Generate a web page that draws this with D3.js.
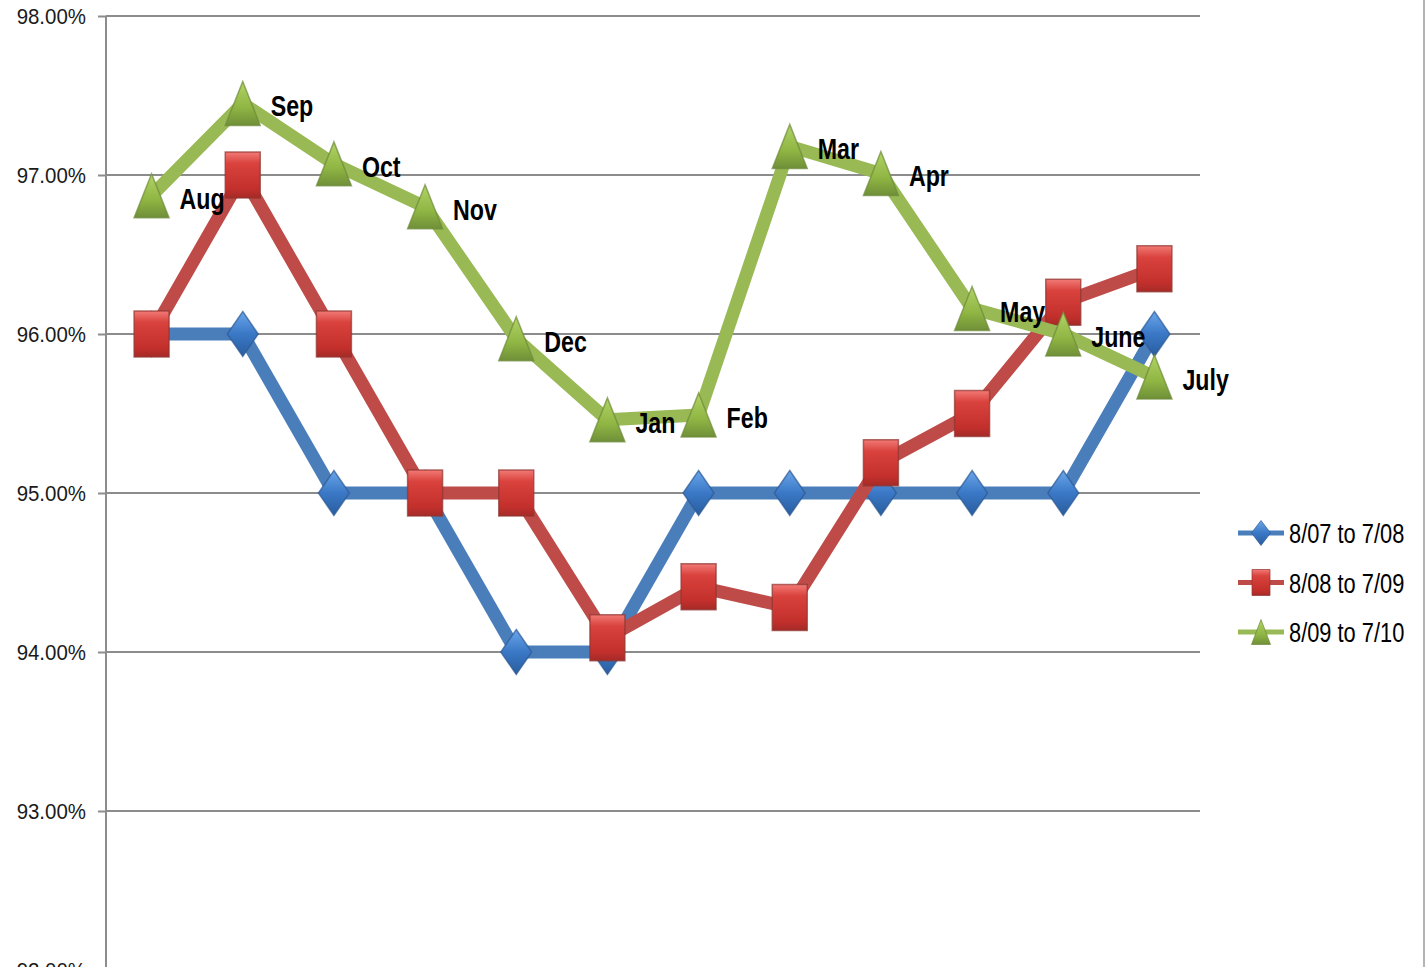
<!DOCTYPE html>
<html>
<head>
<meta charset="utf-8">
<script src="https://cdn.jsdelivr.net/npm/d3@7"></script>
<style>
  body { margin: 0; background: #fff; }
  svg { display: block; }
</style>
</head>
<body>
<div id="chart"></div>
<script>
// months along the x axis
var months = ["Aug", "Sep", "Oct", "Nov", "Dec", "Jan", "Feb", "Mar", "Apr", "May", "June", "July"];

// series values (percent)
var s0708 = [96.0, 96.0, 95.0, 95.0, 94.0, 94.0, 95.0, 95.0, 95.0, 95.0, 95.0, 96.0];
var s0809 = [96.0, 97.0, 96.0, 95.0, 95.0, 94.09, 94.41, 94.28, 95.19, 95.5, 96.2, 96.41];
var s0910 = [96.87, 97.45, 97.07, 96.8, 95.97, 95.46, 95.49, 97.18, 97.01, 96.16, 96.0, 95.73];

var seriesNames = ["8/07 to 7/08", "8/08 to 7/09", "8/09 to 7/10"];
var yTicks = [92, 93, 94, 95, 96, 97, 98];

var svgWidth = 1425;
var svgHeight = 967;

var svg = d3.select("#chart")
    .append("svg")
    .attr("width", svgWidth)
    .attr("height", svgHeight);

var defs = svg.append("defs");

function addGradient(id, stops) {
    var g = defs.append("linearGradient")
        .attr("id", id)
        .attr("x1", 0).attr("y1", 0)
        .attr("x2", 0).attr("y2", 1);
    stops.forEach(function(s) {
        g.append("stop").attr("offset", s[0]).attr("stop-color", s[1]);
    });
}
addGradient("gBlue", [[0, "#6aa6ea"], [0.5, "#3a78c6"], [1, "#2a5d9e"]]);
addGradient("gRed", [[0, "#f27a76"], [0.25, "#d9423d"], [0.8, "#c3302c"], [1, "#a52a27"]]);
addGradient("gGreen", [[0, "#b2d466"], [0.6, "#8fb543"], [1, "#6f8f38"]]);

// scales
var xScale = d3.scaleBand()
    .domain(months)
    .range([106, 1200]);

var yScale = d3.scaleLinear()
    .domain([92, 98])
    .range([970, 16]);

function xc(m) { return xScale(m) + xScale.bandwidth() / 2; }

// chart border on the right
svg.append("line")
    .attr("x1", 1424).attr("x2", 1424)
    .attr("y1", 0).attr("y2", svgHeight)
    .attr("stroke", "#b4b4b4")
    .attr("stroke-width", 2);

// gridlines
svg.append("g")
    .selectAll("line")
    .data(yTicks)
    .enter()
    .append("line")
    .attr("x1", 106).attr("x2", 1200)
    .attr("y1", d => yScale(d)).attr("y2", d => yScale(d))
    .attr("stroke", "#8c8c8c")
    .attr("stroke-width", 2);

// y axis
var leftAxis = d3.axisLeft(yScale)
    .tickValues(yTicks)
    .tickSize(8)
    .tickPadding(12)
    .tickFormat(d => d3.format(".2f")(d) + "%");

var yAxis = svg.append("g")
    .attr("transform", "translate(106,0)")
    .call(leftAxis);

yAxis.select(".domain")
    .attr("d", "M0,16V" + svgHeight)
    .attr("stroke", "#8c8c8c")
    .attr("stroke-width", 2);
yAxis.selectAll(".tick line")
    .attr("stroke", "#8c8c8c")
    .attr("stroke-width", 2);
yAxis.selectAll(".tick text")
    .attr("fill", "#1a1a1a")
    .attr("font-family", "Liberation Sans, Arial, sans-serif")
    .attr("font-size", "22px")
    .attr("dy", "0.36em")
    .attr("x", null)
    .attr("transform", "translate(-20,0) scale(0.93,1)");

// marker shapes
function markerPath(kind, w, h) {
    if (kind === "diamond") {
        return "M0," + (-h / 2) + "L" + (w / 2) + ",0L0," + (h / 2) + "L" + (-w / 2) + ",0Z";
    }
    if (kind === "square") {
        return "M" + (-w / 2) + "," + (-h / 2) + "H" + (w / 2) + "V" + (h / 2) + "H" + (-w / 2) + "Z";
    }
    return "M0," + (-h / 2) + "L" + (w / 2) + "," + (h / 2) + "H" + (-w / 2) + "Z";
}

var series = [
    { name: seriesNames[0], values: s0708, line: "#4a7ebb", fill: "url(#gBlue)", edge: "#2d5a94", kind: "diamond", w: 31, h: 45 },
    { name: seriesNames[1], values: s0809, line: "#be4b48", fill: "url(#gRed)", edge: "#8f3431", kind: "square", w: 35, h: 46 },
    { name: seriesNames[2], values: s0910, line: "#98b954", fill: "url(#gGreen)", edge: "#6e8a3a", kind: "triangle", w: 35, h: 44 }
];

var lineGen = d3.line()
    .x((d, i) => xc(months[i]))
    .y(d => yScale(d));

series.forEach(function(s) {
    var g = svg.append("g");
    g.append("path")
        .datum(s.values)
        .attr("d", lineGen)
        .attr("fill", "none")
        .attr("stroke", s.line)
        .attr("stroke-width", 13)
        .attr("stroke-linejoin", "round");

    g.selectAll("path.marker")
        .data(s.values)
        .enter()
        .append("path")
        .attr("class", "marker")
        .attr("transform", (d, i) => `translate(${xc(months[i])}, ${yScale(d)})`)
        .attr("d", markerPath(s.kind, s.w, s.h))
        .attr("fill", s.fill)
        .attr("stroke", s.edge)
        .attr("stroke-width", 1.5)
        .attr("stroke-opacity", 0.7);
});

// month labels on the 8/09 to 7/10 series
svg.append("g")
    .selectAll("text")
    .data(s0910)
    .enter()
    .append("text")
    .attr("transform", (d, i) => `translate(${xc(months[i]) + 28}, ${yScale(d) + 13}) scale(0.8,1)`)
    .attr("font-family", "Liberation Sans, Arial, sans-serif")
    .attr("font-weight", "bold")
    .attr("font-size", "29px")
    .attr("fill", "#000")
    .text((d, i) => months[i]);

// legend
var legend = svg.append("g")
    .selectAll("g")
    .data(series)
    .enter()
    .append("g")
    .attr("transform", (d, i) => `translate(1261, ${533 + i * 49.5})`);

legend.append("line")
    .attr("x1", -23).attr("x2", 23)
    .attr("y1", 0).attr("y2", 0)
    .attr("stroke", d => d.line)
    .attr("stroke-width", 5);

legend.append("path")
    .attr("d", d => markerPath(d.kind, d.kind === "square" ? 18 : 19, d.kind === "square" ? 26 : 25))
    .attr("fill", d => d.fill)
    .attr("stroke", d => d.edge)
    .attr("stroke-width", 1)
    .attr("stroke-opacity", 0.7);

legend.append("text")
    .attr("transform", "translate(28,10) scale(0.78,1)")
    .attr("font-family", "Liberation Sans, Arial, sans-serif")
    .attr("font-size", "28px")
    .attr("fill", "#000")
    .text(d => d.name);
</script>
</body>
</html>
